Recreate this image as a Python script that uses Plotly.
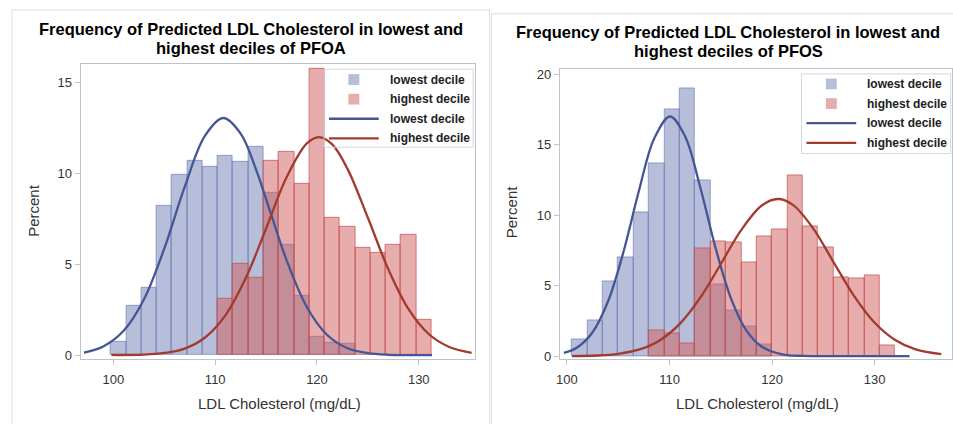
import plotly.graph_objects as go

# ---------------- data ----------------
# PFOA panel: histogram bin centres (width 1.5) and percents
pfoa_low_bins = [100.5, 102, 103.5, 105, 106.5, 108, 109.5, 111, 112.5, 114,
                 115.5, 117, 118.5, 120, 121.5, 123]
pfoa_low_pct = [0.76, 2.73, 3.7, 8.2, 9.9, 10.7, 10.36, 10.97, 10.65, 11.46,
                8.95, 6.07, 3.26, 1.02, 0.68, 0.6]
pfoa_high_bins = [111, 112.5, 114, 115.5, 117, 118.5, 120, 121.5, 123, 124.5,
                  126, 127.5, 129, 130.5]
pfoa_high_pct = [3.09, 5.04, 4.26, 10.69, 11.17, 9.43, 15.74, 7.55, 7.05, 5.88,
                 5.65, 6.06, 6.6, 1.93]

# PFOA fitted curves
pfoa_low_curve_x = [97.1, 99, 101, 103, 105, 107, 109, 110.8, 112.5, 114, 115.5,
                    117, 119, 121, 123, 125, 127, 129, 131.3]
pfoa_low_curve_y = [0.14, 0.48, 1.34, 3.08, 5.87, 9.26, 12.08, 13.05, 12.19, 10.23,
                    7.73, 5.24, 2.65, 1.11, 0.38, 0.11, 0.02, 0.0, 0.0]
pfoa_high_curve_x = [99.8, 103, 105, 107, 109, 111, 113, 115, 117, 119, 120.2,
                     121.5, 123, 125, 127, 129, 131, 133, 135.2]
pfoa_high_curve_y = [0.01, 0.03, 0.12, 0.36, 0.97, 2.19, 4.24, 6.97, 9.77, 11.65,
                     12.0, 11.6, 10.25, 7.56, 4.74, 2.53, 1.15, 0.45, 0.13]

# PFOS panel
pfos_low_bins = [101.25, 102.75, 104.25, 105.75, 107.25, 108.75, 110.25, 111.75,
                 113.25, 114.75, 116.25, 117.75, 119.25]
pfos_low_pct = [1.16, 2.55, 5.29, 7.0, 10.2, 13.7, 17.5, 18.98, 12.5, 5.06, 3.25,
                2.13, 0.85]
pfos_high_bins = [108.75, 110.25, 111.75, 113.25, 114.75, 116.25, 117.75, 119.25,
                  120.75, 122.25, 123.75, 125.25, 126.75, 128.25, 129.75, 131.25]
pfos_high_pct = [1.86, 1.58, 0.93, 7.65, 8.17, 8.05, 6.68, 8.51, 9.0, 12.85, 9.19,
                 7.72, 5.61, 5.52, 5.73, 0.77]

pfos_low_curve_x = [99.7, 101, 102.5, 104, 105.5, 107, 108.5, 110.05, 111.5, 113,
                    114.5, 116, 117.5, 119, 121, 123, 126, 130, 133.4]
pfos_low_curve_y = [0.23, 0.62, 1.70, 3.88, 7.37, 11.68, 15.43, 17.0, 15.62, 11.97,
                    7.65, 4.08, 1.81, 0.67, 0.13, 0.02, 0.0, 0.0, 0.0]
pfos_high_curve_x = [100.5, 103, 105, 107, 109, 111, 113, 115, 117, 119, 120.55,
                     122, 124, 126, 128, 130, 132, 134, 136.5]
pfos_high_curve_y = [0.01, 0.05, 0.17, 0.46, 1.10, 2.29, 4.15, 6.54, 8.96, 10.69,
                     11.15, 10.75, 9.07, 6.66, 4.26, 2.37, 1.15, 0.48, 0.14]

bin_width = 1.5
series_names = ["lowest decile", "highest decile"]
titles = ["Frequency of Predicted LDL Cholesterol in lowest and",
          "highest deciles of PFOA",
          "highest deciles of PFOS"]
x_title = "LDL Cholesterol (mg/dL)"
y_title = "Percent"
x_ticks = [100, 110, 120, 130]

# ---------------- styling ----------------
W, H = 953, 424
FONT = "Liberation Sans, Arial, sans-serif"
BLUE_FILL = "rgba(111,126,179,0.5)"
BLUE_EDGE = "rgba(100,116,178,0.6)"
RED_FILL = "rgba(208,91,91,0.5)"
RED_EDGE = "rgba(196,76,76,0.7)"
BLUE_LINE = "#445694"
RED_LINE = "#A23A2E"
FRAME = "#bfc3c9"


def px(x):
    return x / W


def py(y):
    return 1 - y / H


fig = go.Figure()


def add_panel(xa, ya, lb, lp, hb, hp, lcx, lcy, hcx, hcy):
    fig.add_trace(go.Bar(x=lb, y=lp, width=bin_width, xaxis=xa, yaxis=ya,
                         marker=dict(color=BLUE_FILL, line=dict(color=BLUE_EDGE, width=1)),
                         name=series_names[0], showlegend=False))
    fig.add_trace(go.Bar(x=hb, y=hp, width=bin_width, xaxis=xa, yaxis=ya,
                         marker=dict(color=RED_FILL, line=dict(color=RED_EDGE, width=1)),
                         name=series_names[1], showlegend=False))
    fig.add_trace(go.Scatter(x=lcx, y=lcy, mode="lines", xaxis=xa, yaxis=ya,
                             line=dict(color=BLUE_LINE, width=2.3, shape="spline"),
                             name=series_names[0], showlegend=False))
    fig.add_trace(go.Scatter(x=hcx, y=hcy, mode="lines", xaxis=xa, yaxis=ya,
                             line=dict(color=RED_LINE, width=2.3, shape="spline"),
                             name=series_names[1], showlegend=False))


add_panel("x", "y", pfoa_low_bins, pfoa_low_pct, pfoa_high_bins, pfoa_high_pct,
          pfoa_low_curve_x, pfoa_low_curve_y, pfoa_high_curve_x, pfoa_high_curve_y)
add_panel("x2", "y2", pfos_low_bins, pfos_low_pct, pfos_high_bins, pfos_high_pct,
          pfos_low_curve_x, pfos_low_curve_y, pfos_high_curve_x, pfos_high_curve_y)

axis_common = dict(showgrid=False, zeroline=False, showline=True, linecolor=FRAME,
                   linewidth=1, mirror=True, ticks="outside", ticklen=5,
                   tickcolor=FRAME, tickfont=dict(family=FONT, size=13, color="#333333"))

fig.update_layout(
    width=W, height=H, margin=dict(l=0, r=0, t=0, b=0),
    paper_bgcolor="white", plot_bgcolor="white", barmode="overlay", bargap=0,
    showlegend=False,
    xaxis=dict(domain=[px(77), px(473)], range=[96.77, 135.48], tickvals=x_ticks,
               anchor="y", ticklabelstandoff=3, **axis_common),
    yaxis=dict(domain=[py(363), py(62)], range=[-0.22, 16.03], tickvals=[0, 5, 10, 15],
               anchor="x", **axis_common),
    xaxis2=dict(domain=[px(558.7), 1.0], range=[99.30, 137.54], tickvals=x_ticks,
                anchor="y2", ticklabelstandoff=3, **axis_common),
    yaxis2=dict(domain=[py(363), py(67.7)], range=[-0.21, 20.34],
                tickvals=[0, 5, 10, 15, 20], anchor="x2", **axis_common),
)

shapes = []
annotations = []

# panel borders
shapes.append(dict(type="rect", xref="paper", yref="paper", x0=px(8), x1=px(488),
                   y0=-0.02, y1=py(7), line=dict(color="#dcdcdc", width=1), layer="below"))
shapes.append(dict(type="rect", xref="paper", yref="paper", x0=px(490), x1=1.02,
                   y0=-0.02, y1=py(11), line=dict(color="#dcdcdc", width=1), layer="below"))

# titles
for cx, y1, y2, t2 in [(248, 27, 46, titles[1]), (728, 30, 49, titles[2])]:
    annotations.append(dict(text="<b>" + titles[0] + "</b>", x=px(cx), y=py(y1),
                            xref="paper", yref="paper", xanchor="center", yanchor="middle",
                            showarrow=False, font=dict(family=FONT, size=16.5, color="#000000")))
    annotations.append(dict(text="<b>" + t2 + "</b>", x=px(cx), y=py(y2),
                            xref="paper", yref="paper", xanchor="center", yanchor="middle",
                            showarrow=False, font=dict(family=FONT, size=16.5, color="#000000")))

# axis titles
for cx in (277, 757):
    annotations.append(dict(text=x_title, x=px(cx), y=py(408), xref="paper", yref="paper",
                            xanchor="center", yanchor="middle", showarrow=False,
                            font=dict(family=FONT, size=15, color="#333333")))
for cx, cy in ((29, 211), (511, 213)):
    annotations.append(dict(text=y_title, x=px(cx), y=py(cy), xref="paper", yref="paper",
                            xanchor="center", yanchor="middle", showarrow=False, textangle=-90,
                            font=dict(family=FONT, size=15, color="#333333")))

# legends (custom drawn)
def legend(left, top, bottom, row0):
    shapes.append(dict(type="rect", xref="paper", yref="paper", x0=px(left), x1=px(left + 150),
                       y0=py(bottom), y1=py(top), line=dict(color="#d4d6da", width=1),
                       fillcolor="rgba(0,0,0,0)", layer="above"))
    rows = [row0 + 20 * i for i in range(4)]
    for i, (fill) in enumerate([BLUE_FILL, RED_FILL]):
        shapes.append(dict(type="rect", xref="paper", yref="paper",
                           x0=px(left + 30 - 5.5), x1=px(left + 30 + 5.5),
                           y0=py(rows[i] + 5.5), y1=py(rows[i] - 5.5),
                           line=dict(width=0), fillcolor=fill, layer="above"))
    for i, col in enumerate([BLUE_LINE, RED_LINE]):
        shapes.append(dict(type="line", xref="paper", yref="paper",
                           x0=px(left + 5), x1=px(left + 55),
                           y0=py(rows[i + 2]), y1=py(rows[i + 2]),
                           line=dict(color=col, width=2.3), layer="above"))
    for i, name in enumerate(series_names + series_names):
        annotations.append(dict(text="<b>" + name + "</b>", x=px(left + 64), y=py(rows[i]),
                                xref="paper", yref="paper", xanchor="left", yanchor="middle",
                                showarrow=False, font=dict(family=FONT, size=12, color="#222222")))


legend(321.7, 67.5, 147, 78)
legend(801.7, 72.3, 153.3, 82.5)

fig.update_layout(shapes=shapes, annotations=annotations)
fig.write_html("out.html", config={"displayModeBar": False},
               post_script="document.body.style.margin='0';document.body.style.overflow='hidden';")
